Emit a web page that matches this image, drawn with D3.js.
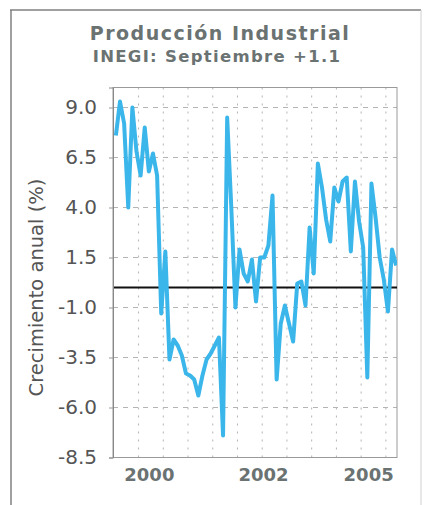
<!DOCTYPE html>
<html>
<head>
<meta charset="utf-8">
<script src="https://cdn.jsdelivr.net/npm/d3@7"></script>
<style>
  body { margin: 0; background: #fff; }
  svg { display: block; }
</style>
</head>
<body>
<svg id="chart" width="425" height="505"></svg>
<script>
// Annual growth of industrial production (%), monthly, Jan 2000 – Sep 2005
const growth = [
  7.6, 9.3, 8.2, 4.0, 9.0, 6.8, 5.6, 8.0, 5.8, 6.7, 5.6, -1.3,
  1.8, -3.6, -2.6, -2.9, -3.4, -4.3, -4.4, -4.6, -5.4, -4.4, -3.6, -3.3,
  -2.9, -2.5, -7.4, 8.5, 4.0, -1.0, 1.9, 0.7, 0.3, 1.4, -0.7, 1.5,
  1.5, 2.1, 4.6, -4.6, -1.8, -0.9, -1.8, -2.7, 0.2, 0.3, -0.9, 3.0,
  0.7, 6.2, 5.0, 3.4, 2.3, 5.0, 4.3, 5.3, 5.5, 1.8, 5.3, 3.3,
  2.0, -4.5, 5.2, 3.5, 1.5, 0.4, -1.2, 1.9, 1.1
];
const yTicks = [9.0, 6.5, 4.0, 1.5, -1.0, -3.5, -6.0, -8.5];
const xTickLabels = ["2000", "2002", "2005"];
const xTickMonths = [8, 35.7, 61.2];          // month index under each year label
const gridMonths = d3.range(5.5, 68, 6);        // half-year grid
const titleText = "Producción Industrial";
const subtitleText = "INEGI: Septiembre +1.1";
const yLabelText = "Crecimiento anual (%)";

const svg = d3.select("#chart");
const plot = { left: 113, right: 397, top: 87.5, bottom: 457.5 };

const x = d3.scaleLinear().domain([-0.7, 68.2]).range([plot.left, plot.right]);
const y = d3.scaleLinear().domain([-8.5, 10]).range([plot.bottom, plot.top]);

// outer frame
svg.append("line").attr("x1", 10).attr("x2", 421).attr("y1", 10).attr("y2", 10)
  .attr("stroke", "#808080").attr("stroke-width", 1.5);
svg.append("line").attr("x1", 11).attr("x2", 11).attr("y1", 10).attr("y2", 505)
  .attr("stroke", "#808080").attr("stroke-width", 1.5);
svg.append("line").attr("x1", 421).attr("x2", 421).attr("y1", 10).attr("y2", 505)
  .attr("stroke", "#d0d0d0").attr("stroke-width", 1);

// titles
svg.append("text").attr("x", 220).attr("y", 39.5).attr("text-anchor", "middle")
  .attr("font-family", "DejaVu Sans").attr("font-weight", "bold")
  .attr("font-size", 19).attr("letter-spacing", 1.5)
  .attr("fill", "#6a7272").text(titleText);
svg.append("text").attr("x", 217).attr("y", 62).attr("text-anchor", "middle")
  .attr("font-family", "DejaVu Sans").attr("font-weight", "bold")
  .attr("font-size", 16.5).attr("letter-spacing", 1.3)
  .attr("fill", "#6a7272").text(subtitleText);

// grid
const grid = svg.append("g");
grid.selectAll("line.h").data(yTicks).join("line").attr("class", "h")
  .attr("x1", plot.left).attr("x2", plot.right)
  .attr("y1", d => y(d)).attr("y2", d => y(d))
  .attr("stroke", "#b4b4b4").attr("stroke-width", 1).attr("stroke-dasharray", "5,5");
grid.selectAll("line.v").data(gridMonths).join("line").attr("class", "v")
  .attr("x1", d => x(d)).attr("x2", d => x(d))
  .attr("y1", plot.top).attr("y2", plot.bottom)
  .attr("stroke", "#b4b4b4").attr("stroke-width", 1).attr("stroke-dasharray", "2,6");

// plot frame
svg.append("rect").attr("x", plot.left).attr("y", plot.top)
  .attr("width", plot.right - plot.left).attr("height", plot.bottom - plot.top)
  .attr("fill", "none").attr("stroke", "#9a9a9a").attr("stroke-width", 1);

// zero line
svg.append("line").attr("x1", plot.left).attr("x2", plot.right)
  .attr("y1", y(0)).attr("y2", y(0))
  .attr("stroke", "#111").attr("stroke-width", 2);

// series
svg.append("clipPath").attr("id", "clip").append("rect")
  .attr("x", plot.left).attr("y", plot.top)
  .attr("width", plot.right - plot.left).attr("height", plot.bottom - plot.top);
const line = d3.line().x((d, i) => x(i)).y(d => y(d));
svg.append("path").datum(growth)
  .attr("clip-path", "url(#clip)")
  .attr("d", line)
  .attr("fill", "none").attr("stroke", "#3bb6ea")
  .attr("stroke-width", 4).attr("stroke-linejoin", "round");

// y axis
const yAxis = svg.append("g").attr("transform", `translate(${plot.left},0)`)
  .call(d3.axisLeft(y).tickValues(yTicks).tickSize(4).tickPadding(12)
    .tickFormat(d => d.toFixed(1)));
yAxis.select(".domain").attr("stroke", "#888");
yAxis.selectAll(".tick line").attr("stroke", "#999");
yAxis.selectAll(".tick text").attr("font-family", "DejaVu Sans")
  .attr("font-size", 20).attr("fill", "#555");

// x axis
const xAxis = svg.append("g").attr("transform", `translate(0,${plot.bottom})`)
  .call(d3.axisBottom(x).tickValues(xTickMonths).tickSize(0).tickPadding(11)
    .tickFormat((d, i) => xTickLabels[i]));
xAxis.select(".domain").remove();
xAxis.selectAll(".tick text").attr("font-family", "DejaVu Sans")
  .attr("font-weight", "bold").attr("font-size", 18).attr("fill", "#6a7272");

// y axis title
svg.append("text")
  .attr("transform", `translate(43,${(plot.top + plot.bottom) / 2 + 15}) rotate(-90)`)
  .attr("text-anchor", "middle")
  .attr("font-family", "DejaVu Sans").attr("font-size", 19.5).attr("fill", "#555")
  .text(yLabelText);
</script>
</body>
</html>
